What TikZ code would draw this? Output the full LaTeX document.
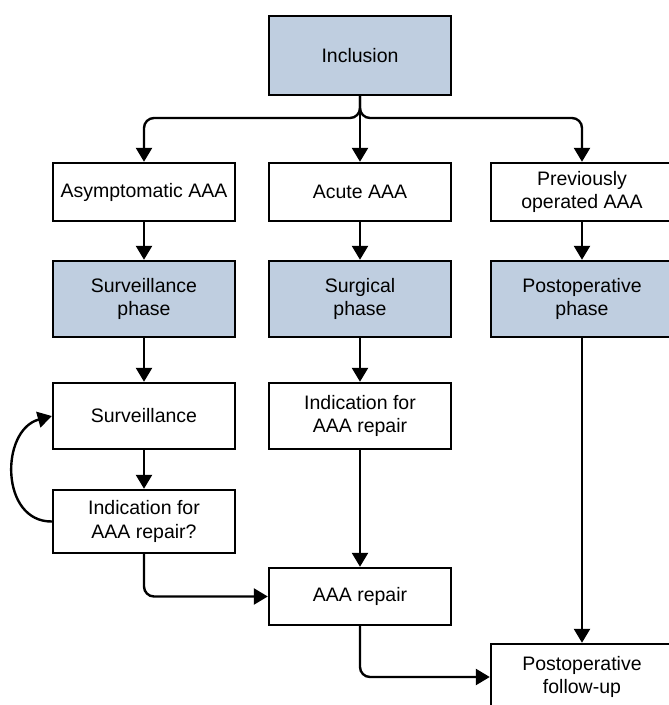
\documentclass[tikz,border=0pt]{standalone}
\usepackage{fontspec}
\setmainfont{Liberation Sans}
\usetikzlibrary{arrows.meta}
\definecolor{phasefill}{HTML}{BFCEE0}
\tikzset{
  box/.style={draw=black, line width=2.4pt, minimum width=182pt, inner sep=0pt, align=center,
    font=\fontsize{19.5}{23.5}\selectfont, fill=white},
  phasebox/.style={box, fill=phasefill},
  arr/.style={line width=2.4pt, -{Triangle[width=16pt,length=14pt]}},
}
\begin{document}
\begin{tikzpicture}[x=1pt,y=-1pt]
\clip (0,0) rectangle (669,705);
\fill[white] (0,0) rectangle (669,705);
\node[phasebox, minimum height=79pt] (inc) at (360,55.5) {Inclusion};
\node[box, minimum height=58pt] (asym) at (144,192) {Asymptomatic AAA};
\node[box, minimum height=58pt] (acute) at (360,192) {Acute AAA};
\node[box, minimum height=58pt] (prev) at (582,192) {Previously\\operated AAA};
\node[phasebox, minimum height=76pt] (survph) at (144,299) {Surveillance\\phase};
\node[phasebox, minimum height=76pt] (surgph) at (360,299) {Surgical\\phase};
\node[phasebox, minimum height=76pt] (postph) at (582,299) {Postoperative\\phase};
\node[box, minimum height=66pt] (surv) at (144,416) {Surveillance};
\node[box, minimum height=66pt] (indic) at (360,416) {Indication for\\AAA repair};
\node[box, minimum height=63pt] (indicq) at (144,521.5) {Indication for\\AAA repair?};
\node[box, minimum height=57pt] (repair) at (360,596.5) {AAA repair};
\node[box, minimum height=66pt] (follow) at (582,677) {Postoperative\\follow-up};
\coordinate (j) at (360,118);
\draw[arr, rounded corners=10pt] (inc.south) -- (j) -| (asym.north);
\draw[arr, rounded corners=10pt] (inc.south) -- (j) -| (prev.north);
\draw[arr] (inc.south) -- (acute.north);
\draw[arr] (asym) -- (survph);
\draw[arr] (acute) -- (surgph);
\draw[arr] (prev) -- (postph);
\draw[arr] (survph) -- (surv);
\draw[arr] (surgph) -- (indic);
\draw[arr] (surv) -- (indicq);
\draw[arr] (indicq.west) .. controls (0,522) and (0,430) .. (surv.west);
\draw[arr, rounded corners=10pt] (indicq.south) |- (repair.west);
\draw[arr] (indic) -- (repair);
\draw[arr, rounded corners=10pt] (repair.south) |- (follow.west);
\draw[arr] (postph) -- (follow);
\end{tikzpicture}
\end{document}
